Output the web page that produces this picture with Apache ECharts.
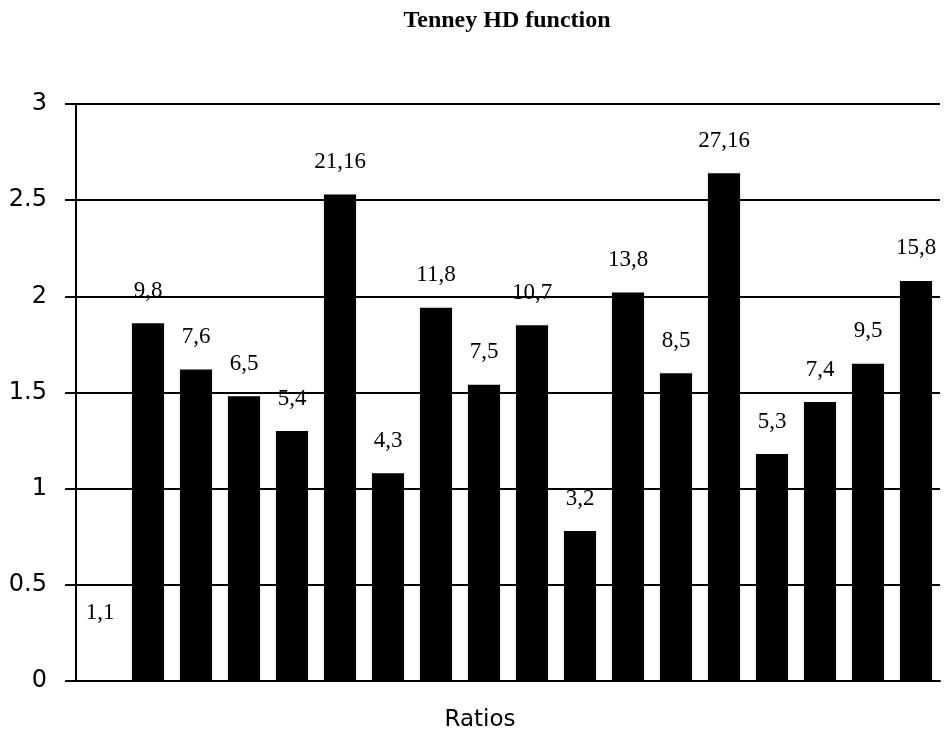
<!DOCTYPE html>
<html>
<head>
<meta charset="utf-8">
<script src="https://cdn.jsdelivr.net/npm/echarts@6/dist/echarts.min.js"></script>
<style>
  html, body { margin: 0; padding: 0; background: #fff; }
  #chart { width: 950px; height: 731px; }
</style>
</head>
<body>
<div id="chart"></div>
<script>
// ratios shown above each bar
var ratios = ['1,1', '9,8', '7,6', '6,5', '5,4', '21,16', '4,3', '11,8', '7,5',
  '10,7', '3,2', '13,8', '8,5', '27,16', '5,3', '7,4', '9,5', '15,8'];
// Tenney HD values
var hdValues = [0, 1.86, 1.62, 1.48, 1.30, 2.53, 1.08, 1.94, 1.54,
  1.85, 0.78, 2.02, 1.60, 2.64, 1.18, 1.45, 1.65, 2.08];
var yTicks = [0, 0.5, 1, 1.5, 2, 2.5, 3];

var myChart = echarts.init(document.getElementById('chart'));

var option = {
  backgroundColor: '#fff',
  animation: false,
  title: {
    text: 'Tenney HD function',
    left: 502,
    textAlign: 'center',
    top: 4,
    textStyle: {
      fontFamily: 'Liberation Serif',
      fontWeight: 'bold',
      fontSize: 24,
      color: '#000'
    }
  },
  grid: { left: 76, right: 10, top: 104, bottom: 50, outerBoundsMode: 'none' },
  xAxis: {
    type: 'category',
    data: ratios,
    name: 'Ratios',
    nameLocation: 'middle',
    nameGap: 28,
    nameTextStyle: {
      fontFamily: 'DejaVu Sans',
      fontSize: 23,
      color: '#000',
      padding: [0, 56, 0, 0]
    },
    axisLine: { lineStyle: { color: '#000', width: 2 } },
    axisTick: { show: false },
    axisLabel: { show: false }
  },
  yAxis: {
    type: 'value',
    min: yTicks[0],
    max: yTicks[yTicks.length - 1],
    interval: 0.5,
    axisLine: { show: true, lineStyle: { color: '#000', width: 2 } },
    axisTick: { show: true, length: 11, lineStyle: { color: '#000', width: 2 } },
    axisLabel: {
      margin: 29,
      fontFamily: 'DejaVu Sans',
      fontSize: 24,
      color: '#000'
    },
    splitLine: { show: true, lineStyle: { color: '#000', width: 2 } }
  },
  series: [{
    type: 'bar',
    barCategoryGap: '33%',
    itemStyle: { color: '#000' },
    z: 3,
    label: {
      show: true,
      position: 'top',
      distance: 21,
      fontFamily: 'Liberation Serif',
      fontSize: 23,
      color: '#000',
      formatter: function (p) { return ratios[p.dataIndex]; }
    },
    data: hdValues.map(function (v, i) {
      // the 1,1 label sits higher in the original
      if (v === 0) return { value: v, label: { distance: 57 } };
      return v;
    })
  }]
};

myChart.setOption(option);
</script>
</body>
</html>
